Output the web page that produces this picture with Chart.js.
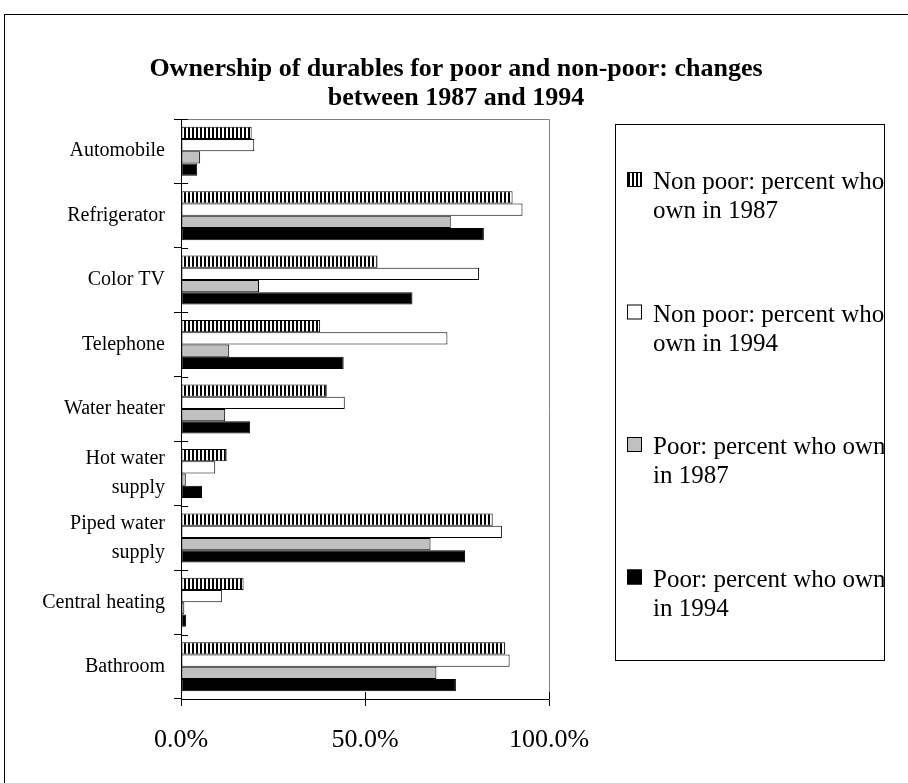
<!DOCTYPE html>
<html>
<head>
<meta charset="utf-8">
<script src="https://cdn.jsdelivr.net/npm/chart.js@4.4.1/dist/chart.umd.min.js"></script>
<style>
  html, body { margin: 0; padding: 0; background: #fff; }
  #wrap { width: 908px; height: 783px; }
</style>
</head>
<body>
<div id="wrap"><canvas id="myChart" width="908" height="783"></canvas></div>
<script>
const categories = ['Automobile', 'Refrigerator', 'Color TV', 'Telephone', 'Water heater',
  ['Hot water', 'supply'], ['Piped water', 'supply'], 'Central heating', 'Bathroom'];

const nonPoor1987 = [19.2, 90.1, 53.4, 37.8, 39.6, 12.4, 84.7, 17.0, 88.1];
const nonPoor1994 = [19.9, 92.8, 81.0, 72.4, 44.5, 9.3, 87.2, 11.1, 89.3];
const poor1987 = [5.2, 73.3, 21.2, 13.1, 12.0, 1.3, 67.8, 0.9, 69.4];
const poor1994 = [4.4, 82.3, 62.9, 44.2, 18.8, 5.7, 77.2, 1.4, 74.7];

const seriesLabels = [
  ['Non poor: percent who', 'own in 1987'],
  ['Non poor: percent who', 'own in 1994'],
  ['Poor: percent who own', 'in 1987'],
  ['Poor: percent who own', 'in 1994']
];
const titleLines = ['Ownership of durables for poor and non-poor: changes', 'between 1987 and 1994'];
const xTicks = [0, 50, 100];

const serif = "'Liberation Serif', 'Times New Roman', serif";

// vertical stripes for the first series
function stripes() {
  const c = document.createElement('canvas');
  c.width = 4; c.height = 4;
  const g = c.getContext('2d');
  g.fillStyle = '#fff';
  g.fillRect(0, 0, 4, 4);
  g.fillStyle = '#000';
  g.fillRect(0, 0, 2, 4);
  return g.createPattern(c, 'repeat');
}
const stripeFill = stripes();
const fills = [stripeFill, '#ffffff', '#c0c0c0', '#000000'];

const frame = {
  id: 'frame',
  beforeDraw(chart) {
    const c = chart.ctx;
    c.save();
    c.fillStyle = '#fff';
    c.fillRect(0, 0, chart.width, chart.height);
    c.strokeStyle = '#000';
    c.lineWidth = 1;
    c.strokeRect(4.5, 14.5, chart.width + 10, chart.height + 10);
    c.restore();
  },
  afterDraw(chart) {
    const c = chart.ctx;
    const a = chart.chartArea;
    const xs = chart.scales.x, ys = chart.scales.y;
    c.save();
    // plot frame top / right
    c.strokeStyle = '#808080';
    c.lineWidth = 1;
    c.beginPath();
    c.moveTo(Math.round(a.left) + 0.5, Math.round(a.top) + 0.5);
    c.lineTo(Math.round(a.right) + 0.5, Math.round(a.top) + 0.5);
    c.lineTo(Math.round(a.right) + 0.5, Math.round(a.bottom) + 0.5);
    c.stroke();
    // inner halves of the crossing tick marks
    c.strokeStyle = '#000';
    c.beginPath();
    xTicks.forEach(v => {
      const px = Math.round(xs.getPixelForValue(v)) + 0.5;
      c.moveTo(px, a.bottom);
      c.lineTo(px, a.bottom - 7);
    });
    const half = (ys.getPixelForValue(1) - ys.getPixelForValue(0)) / 2;
    for (let i = 0; i <= categories.length; i++) {
      const py = Math.round(ys.getPixelForValue(i) - half) + 0.5;
      c.moveTo(a.left, py);
      c.lineTo(a.left + 7, py);
    }
    c.stroke();

    // title
    c.fillStyle = '#000';
    c.font = 'bold 26px ' + serif;
    c.textAlign = 'center';
    c.textBaseline = 'alphabetic';
    c.fillText(titleLines[0], 456, 76);
    c.fillText(titleLines[1], 456, 105);

    // legend box
    c.strokeStyle = '#000';
    c.strokeRect(615.5, 124.5, 269, 536);
    c.font = '25px ' + serif;
    c.textAlign = 'left';
    chart.data.datasets.forEach((ds, i) => {
      const base = 189 + i * 132.5;
      c.fillStyle = ds.backgroundColor;
      c.fillRect(627, base - 17, 15, 15);
      c.strokeStyle = '#000';
      c.strokeRect(627.5, base - 16.5, 14, 14);
      c.fillStyle = '#000';
      seriesLabels[i].forEach((t, j) => c.fillText(t, 653, base + j * 29));
    });
    c.restore();
  }
};

const ctx = document.getElementById('myChart');
new Chart(ctx, {
  type: 'bar',
  data: {
    labels: categories,
    datasets: [nonPoor1987, nonPoor1994, poor1987, poor1994].map((d, i) => ({
      label: seriesLabels[i].join(' '),
      data: d,
      backgroundColor: fills[i],
      borderColor: '#000',
      borderWidth: 1,
      borderSkipped: false,
      categoryPercentage: 0.76,
      barPercentage: 1.0
    }))
  },
  options: {
    indexAxis: 'y',
    responsive: false,
    animation: false,
    layout: { padding: { left: 0, right: 359, top: 119, bottom: 0 } },
    plugins: {
      legend: { display: false },
      title: { display: false },
      tooltip: { enabled: false }
    },
    scales: {
      x: {
        min: 0,
        max: 100,
        afterFit(s) { s.height = 84; },
        afterBuildTicks(s) { s.ticks = xTicks.map(v => ({ value: v })); },
        border: { color: '#000', width: 1 },
        grid: { drawOnChartArea: false, tickLength: 7, color: '#000' },
        ticks: {
          color: '#000',
          font: { family: serif, size: 26 },
          padding: 19,
          maxRotation: 0,
          callback: v => v.toFixed(1) + '%'
        }
      },
      y: {
        afterFit(s) { s.width = 181; },
        border: { color: '#000', width: 1 },
        grid: { drawOnChartArea: false, tickLength: 7, color: '#000', offset: true },
        ticks: {
          color: '#000',
          font: { family: serif, size: 20, lineHeight: 1.45 },
          padding: 9
        }
      }
    }
  },
  plugins: [frame]
});
</script>
</body>
</html>
